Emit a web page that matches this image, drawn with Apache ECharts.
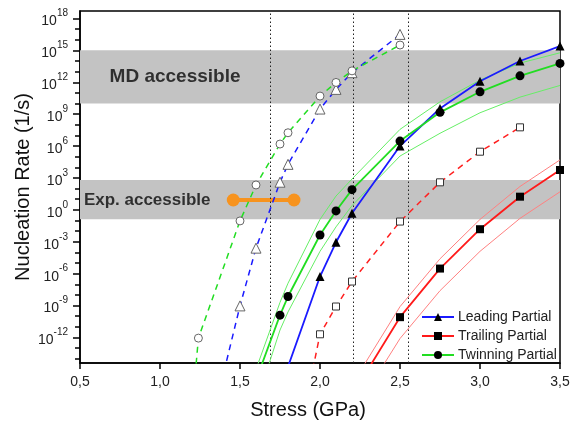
<!DOCTYPE html>
<html>
<head>
<meta charset="utf-8">
<script src="https://cdn.jsdelivr.net/npm/echarts@6/dist/echarts.min.js"></script>
<style>html,body{margin:0;padding:0;background:#fff}#c{width:575px;height:421px}</style>
</head>
<body>
<div id="c"></div>
<script>
// All rate values are log10(Nucleation Rate [1/s]); x values are Stress (GPa)
const yMajorExp = [-12, -9, -6, -3, 0, 3, 6, 9, 12, 15, 18];
const yMinorExp = [-14,-13,-12,-11,-10,-9,-8,-7,-6,-5,-4,-3,-2,-1,0,1,2,3,4,5,6,7,8,9,10,11,12,13,14,15,16,17,18];

// Solid fits with filled markers
const leadingPts  = [[2.0,-6.27],[2.1,-3.05],[2.2,-0.32],[2.5,6.0],[2.75,9.54],[3.0,12.1],[3.25,14.0],[3.5,15.4]];
const leadingExt  = [[1.8,-14.75]];
const trailingPts = [[2.5,-10.09],[2.75,-5.52],[3.0,-1.82],[3.25,1.24],[3.5,3.75]];
const trailingExt = [[2.3,-15.0]];
const twinningPts = [[1.75,-9.9],[1.8,-8.15],[2.0,-2.36],[2.1,-0.1],[2.2,1.9],[2.5,6.47],[2.75,9.17],[3.0,11.1],[3.25,12.6],[3.5,13.77]];
const twinningExt = [[1.625,-15.0]];

// Confidence bounds (thin lines)
const twinUpper = [[1.60,-15],[1.75,-8.7],[1.8,-6.9],[2.0,-0.9],[2.1,1.3],[2.2,2.9],[2.5,7.57],[2.75,10.16],[3.0,12.2],[3.25,13.8],[3.5,14.77]];
const twinLower = [[1.67,-15],[1.75,-11.3],[1.8,-9.6],[2.0,-3.9],[2.1,-1.6],[2.2,0.4],[2.5,5.06],[2.75,7.2],[3.0,9.13],[3.25,10.6],[3.5,11.7]];
const trailUpper = [[2.25,-15.2],[2.5,-9.1],[2.75,-4.6],[3.0,-0.9],[3.25,2.2],[3.5,4.7]];
const trailLower = [[2.35,-15.7],[2.5,-12.1],[2.75,-7.6],[3.0,-3.9],[3.25,-0.8],[3.5,1.7]];

// Dashed curves with hollow markers
const leadingHollow  = [[1.5,-9.03],[1.6,-3.6],[1.75,2.6],[1.8,4.28],[2.0,9.48],[2.1,11.33],[2.2,12.9],[2.5,16.5]];
const leadingHollowExt = [[1.4,-15.2]];
const twinningHollow = [[1.24,-12.06],[1.5,-1.04],[1.6,2.34],[1.75,6.19],[1.8,7.25],[2.0,10.7],[2.1,11.98],[2.2,13.07],[2.5,15.5]];
const twinningHollowExt = [[1.22,-15.5]];
const trailingHollow = [[2.0,-11.7],[2.1,-9.09],[2.2,-6.74],[2.5,-1.1],[2.75,2.59],[3.0,5.47],[3.25,7.76]];
const trailingHollowExt = [[1.955,-15.0]];

// Annotations
const guideStress = [1.6875, 2.2075, 2.55];
const mdBand = [10, 15];
const expBand = [-0.88, 2.8];
const expRange = [[1.458, 0.93], [1.8375, 0.93]];
const mdLabel = {name: 'MD accessible', value: [1.094, 12.48]};
const expLabel = {name: 'Exp. accessible', value: [0.92, 0.93]};

const FONT = 'Liberation Sans, Arial, sans-serif';
const withExt = (ext, pts) => ext.map(p => ({value: p, symbol: 'none'})).concat(pts.map(p => ({value: p})));

const chart = echarts.init(document.getElementById('c'), null, {renderer: 'canvas'});
const yBase = {
  type: 'value', min: -14.4, max: 18.7, gridIndex: 0,
  splitLine: {show: false}
};
const bandLabelStyle = size => ({show: true, position: 'inside', formatter: p => p.name, fontFamily: FONT, fontWeight: 'bold', fontSize: size, color: '#0a0a0a'});
chart.setOption({
  animation: false,
  backgroundColor: '#fff',
  grid: {left: 80, right: 15, top: 11, bottom: 58, show: true, borderColor: '#000', borderWidth: 1.5, backgroundColor: 'transparent',
    containLabel: false, outerBoundsMode: 'none'},
  xAxis: {
    type: 'value', min: 0.5, max: 3.5, interval: 0.5,
    name: 'Stress (GPa)', nameLocation: 'middle', nameGap: 37, nameMoveOverlap: false,
    nameTextStyle: {fontFamily: FONT, fontSize: 20, color: '#111', padding: [0, 24, 0, 0]},
    axisLine: {onZero: false, lineStyle: {color: '#000', width: 1.5}},
    axisTick: {show: true, inside: false, length: 6, lineStyle: {color: '#000', width: 1.5}},
    axisLabel: {fontFamily: FONT, fontSize: 14, color: '#222', margin: 12, formatter: v => v.toFixed(1).replace('.', ',')},
    splitLine: {show: false}
  },
  yAxis: [
    Object.assign({}, yBase, {
      name: 'Nucleation Rate (1/s)', nameLocation: 'middle', nameGap: 47, nameRotate: 90, nameMoveOverlap: false,
      nameTextStyle: {fontFamily: FONT, fontSize: 20, color: '#111'},
      axisLine: {show: true, lineStyle: {color: '#000', width: 1.5}},
      axisTick: {show: true, length: 7, customValues: yMajorExp, lineStyle: {color: '#000', width: 1.5}},
      axisLabel: {
        customValues: yMajorExp, margin: 12,
        formatter: v => '{b|10}{s|' + v + '}',
        rich: {
          b: {fontFamily: FONT, fontSize: 14, color: '#222', lineHeight: 20, verticalAlign: 'bottom'},
          s: {fontFamily: FONT, fontSize: 10, color: '#222', lineHeight: 20, verticalAlign: 'top'}
        }
      }
    }),
    Object.assign({}, yBase, {
      position: 'left',
      axisLine: {show: false},
      axisTick: {show: true, length: 5, customValues: yMinorExp, lineStyle: {color: '#000', width: 1.5}},
      axisLabel: {show: false}
    })
  ],
  legend: {
    orient: 'vertical', left: 421, top: 310,
    data: ['Leading Partial', 'Trailing Partial', 'Twinning Partial'],
    itemWidth: 32, itemHeight: 10, itemGap: 5,
    textStyle: {fontFamily: FONT, fontSize: 14, color: '#222', padding: [0, 0, 0, -1]},
    padding: 0
  },
  series: [
    {
      type: 'line', name: 'bands', data: [], silent: true, z: 1,
      markArea: {
        silent: true,
        itemStyle: {color: '#c3c3c3'},
        data: [
          [{yAxis: mdBand[0]}, {yAxis: mdBand[1]}],
          [{yAxis: expBand[0]}, {yAxis: expBand[1]}]
        ]
      },
      markLine: {
        silent: true, symbol: 'none', label: {show: false},
        lineStyle: {color: '#222', type: [1.5, 2.5], width: 1},
        data: guideStress.map(s => ({xAxis: s}))
      }
    },
    {
      type: 'scatter', name: 'md label', data: [mdLabel], symbolSize: 0, silent: true, z: 3,
      label: bandLabelStyle(19)
    },
    {
      type: 'scatter', name: 'exp label', data: [expLabel], symbolSize: 0, silent: true, z: 3,
      label: bandLabelStyle(17)
    },
    {
      type: 'line', name: 'exp range', data: expRange, symbol: 'circle', symbolSize: 13, z: 4,
      lineStyle: {color: '#f7931e', width: 4}, itemStyle: {color: '#f7931e'}
    },
    // thin bounds
    {type: 'line', name: 'tw up', data: twinUpper, symbol: 'none', z: 5, lineStyle: {color: '#66ee66', width: 1}},
    {type: 'line', name: 'tw lo', data: twinLower, symbol: 'none', z: 5, lineStyle: {color: '#66ee66', width: 1}},
    {type: 'line', name: 'tr up', data: trailUpper, symbol: 'none', z: 5, lineStyle: {color: '#ff8080', width: 1}},
    {type: 'line', name: 'tr lo', data: trailLower, symbol: 'none', z: 5, lineStyle: {color: '#ff8080', width: 1}},
    // dashed with hollow markers
    {type: 'line', name: 'lead hollow', data: withExt(leadingHollowExt, leadingHollow), z: 6,
      symbol: 'triangle', symbolSize: 10, lineStyle: {color: '#1a1aff', width: 1.5, type: [6, 5]},
      itemStyle: {color: '#fff', borderColor: '#666', borderWidth: 1}},
    {type: 'line', name: 'twin hollow', data: withExt(twinningHollowExt, twinningHollow), z: 6,
      symbol: 'circle', symbolSize: 8, lineStyle: {color: '#22dd22', width: 1.5, type: [6, 5]},
      itemStyle: {color: '#fff', borderColor: '#666', borderWidth: 1}},
    {type: 'line', name: 'trail hollow', data: withExt(trailingHollowExt, trailingHollow), z: 6,
      symbol: 'rect', symbolSize: 7, lineStyle: {color: '#ff2020', width: 1.5, type: [6, 5]},
      itemStyle: {color: '#fff', borderColor: '#333', borderWidth: 1}},
    // main solid lines
    {type: 'line', name: 'Leading Partial', data: withExt(leadingExt, leadingPts), z: 7,
      symbol: 'triangle', symbolSize: 9, lineStyle: {color: '#1a1aff', width: 1.8},
      itemStyle: {color: '#000'}},
    {type: 'line', name: 'Trailing Partial', data: withExt(trailingExt, trailingPts), z: 7,
      symbol: 'rect', symbolSize: 8, lineStyle: {color: '#ff1a1a', width: 1.8},
      itemStyle: {color: '#000'}},
    {type: 'line', name: 'Twinning Partial', data: withExt(twinningExt, twinningPts), z: 7,
      symbol: 'circle', symbolSize: 9, lineStyle: {color: '#22dd22', width: 1.8},
      itemStyle: {color: '#000'}}
  ]
});
</script>
</body>
</html>
